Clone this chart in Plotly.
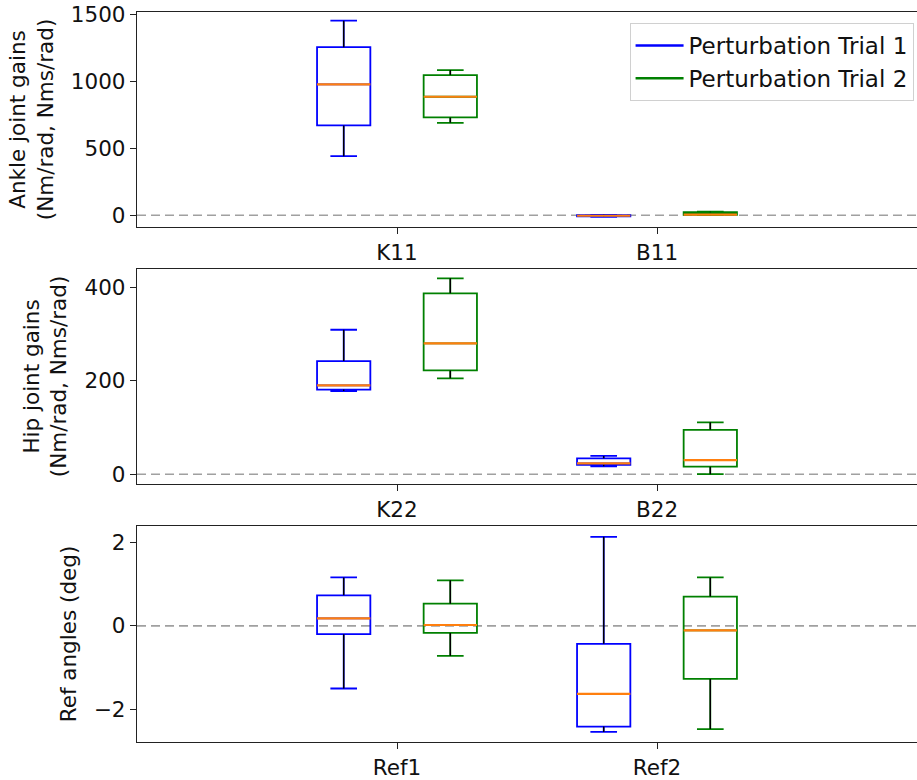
import plotly.graph_objects as go
from plotly.subplots import make_subplots

# ---------------- data ----------------
panel_categories = [["K11", "B11"], ["K22", "B22"], ["Ref1", "Ref2"]]
panel_titles = ["Ankle joint gains<br>(Nm/rad, Nms/rad)",
                "Hip joint gains<br>(Nm/rad, Nms/rad)",
                "Ref angles (deg)"]
series_names = ["Perturbation Trial 1", "Perturbation Trial 2"]

# per panel, per series: [lowerfence, q1, median, q3, upperfence] for each category
trial1_stats = [
    [[440, 669, 975, 1253, 1450], [-12, -8, -4, 0, 3]],
    [[178, 181, 190, 242, 309], [17, 20, 23, 34, 39]],
    [[-1.50, -0.20, 0.18, 0.73, 1.16], [-2.54, -2.41, -1.63, -0.43, 2.13]],
]
trial2_stats = [
    [[689, 729, 883, 1045, 1082], [0, 2, 5, 22, 26]],
    [[205, 222, 280, 387, 419], [0, 16, 30, 95, 111]],
    [[-0.72, -0.17, 0.02, 0.53, 1.09], [-2.47, -1.27, -0.11, 0.70, 1.16]],
]

y_ticks = [[0, 500, 1000, 1500], [0, 200, 400], [-2, 0, 2]]
y_ticktext = [["0", "500", "1000", "1500"], ["0", "200", "400"], ["\u22122", "0", "2"]]
y_ranges = [[-88, 1515], [-21, 439], [-2.78, 2.39]]

# ---------------- style ----------------
colors = ["#0000ff", "#008000"]
median_color = "#ff7f0e"
whisker_color = "#000000"
offsets = [-0.205, 0.205]
box_w = 0.205
FONT = "DejaVu Sans"
FS = 21.5

W, H = 917, 780
left = 137
domains_px = [(12, 227), (269, 484), (526, 742)]

fig = make_subplots(rows=3, cols=1)

for r in range(3):
    for s, stats in enumerate([trial1_stats[r], trial2_stats[r]]):
        for c, st in enumerate(stats):
            lo, q1, med, q3, hi = st
            pos = (c + 1) + offsets[s]
            fig.add_trace(go.Box(
                x=[pos], q1=[q1], median=[med], q3=[q3],
                lowerfence=[lo], upperfence=[hi],
                width=box_w, whiskerwidth=0.5,
                line=dict(color=colors[s], width=1.8),
                fillcolor="rgba(0,0,0,0)",
                boxpoints=False, showlegend=False, hoverinfo="skip",
            ), row=r + 1, col=1)
            # black whisker stems
            fig.add_trace(go.Scatter(
                x=[pos, pos, None, pos, pos],
                y=[q3, hi, None, q1, lo],
                mode="lines", line=dict(color=whisker_color, width=1.4),
                showlegend=False, hoverinfo="skip",
            ), row=r + 1, col=1)
            # orange median
            fig.add_trace(go.Scatter(
                x=[pos - box_w / 2, pos + box_w / 2], y=[med, med],
                mode="lines", line=dict(color=median_color, width=2.2),
                showlegend=False, hoverinfo="skip",
            ), row=r + 1, col=1)
    fig.add_hline(y=0, line=dict(color="#a0a0a0", width=1.6, dash="9px,5px"),
                  layer="below", row=r + 1, col=1)

# legend entries
for s in range(2):
    fig.add_trace(go.Scatter(x=[None], y=[None], mode="lines",
                             line=dict(color=colors[s], width=2.5),
                             name=series_names[s]), row=1, col=1)

for r in range(3):
    top, bot = domains_px[r]
    yax = "yaxis" if r == 0 else f"yaxis{r+1}"
    xax = "xaxis" if r == 0 else f"xaxis{r+1}"
    fig.layout[yax].update(
        domain=[1 - bot / H, 1 - top / H], automargin=False,
        range=y_ranges[r], tickvals=y_ticks[r], ticktext=y_ticktext[r],
        showgrid=False, zeroline=False, showline=True, mirror=True,
        linecolor="#222", linewidth=1.3, ticks="outside", ticklen=6,
        tickcolor="#222", tickfont=dict(size=FS, color="#111"),
        title=dict(text=panel_titles[r], font=dict(size=FS, color="#111"), standoff=11),
    )
    fig.layout[xax].update(
        domain=[0, 1], range=[0, 3], tickvals=[1, 2], ticktext=panel_categories[r],
        automargin=False,
        showgrid=False, zeroline=False, showline=True, mirror=True,
        linecolor="#222", linewidth=1.3, ticks="outside", ticklen=6,
        tickcolor="#222", tickfont=dict(size=FS, color="#111"),
    )

fig.update_layout(
    width=W, height=H,
    margin=dict(l=left, r=0, t=0, b=0),
    paper_bgcolor="white", plot_bgcolor="white",
    font=dict(family=FONT, size=FS, color="#111"),
    showlegend=True,
    legend=dict(x=0.9956, xanchor="right", y=1 - 23 / H, yanchor="top",
                bgcolor="rgba(255,255,255,0.8)", bordercolor="#d0d0d0", borderwidth=1,
                font=dict(size=23, color="#111"), tracegroupgap=0, itemwidth=48),
)

fig.write_html("out.html")
